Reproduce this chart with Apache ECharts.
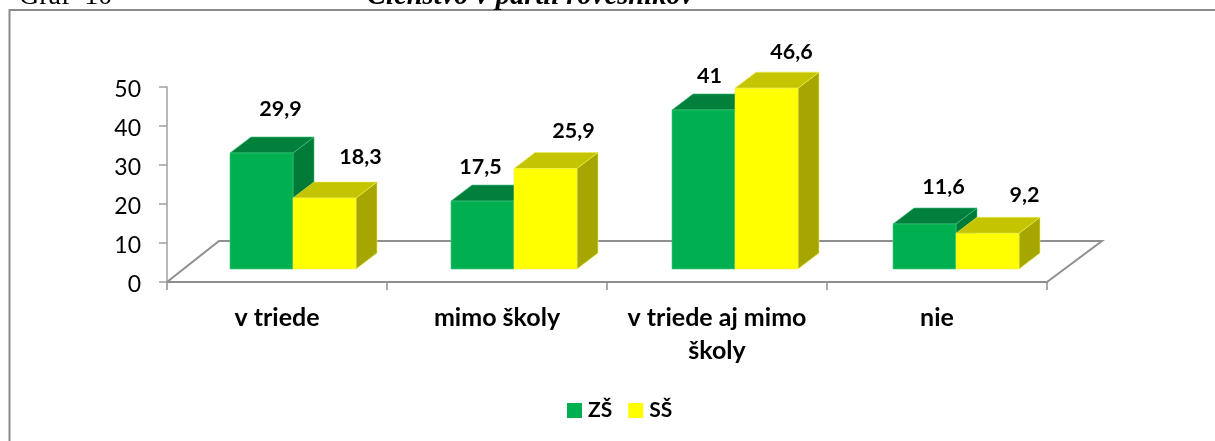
<!DOCTYPE html>
<html><head><meta charset="utf-8">
<style>html,body{margin:0;padding:0;background:#fff}#c{width:1215px;height:441px}</style>
<script src="https://cdn.jsdelivr.net/npm/echarts@6/dist/echarts.min.js"></script>
</head><body><div id="c"></div>
<script>
const categories = ['v triede', 'mimo školy', 'v triede aj mimo\nškoly', 'nie'];
const seriesNames = ['ZŠ', 'SŠ'];
const valuesZS = [29.9, 17.5, 41, 11.6];
const valuesSS = [18.3, 25.9, 46.6, 9.2];
const yTicks = [0, 50, 10];

const FONT = 'Lato';
const frontOff = [16, -13], depth = [21, -16], barW = 63, floorDepth = [52, -41], floorBackExtra = 3;
const spread = 1;               // reference bars drift about 1px per category
const depthShrink = 0.995;      // front plane of the 3D box sits slightly further back than the axis
// hand-placed data label nudges in the reference [dx from bar centre, dy from front top]
const nudgeZS = [[19, -44], [-2, -34], [6, -34], [19, -37]];
const nudgeSS = [[36, -41], [28, -37], [25, -36], [37, -38]];

function bar3d(colors, side, nudges) {
  return function (params, api) {
    const i = api.value(0), v = api.value(1);
    const p = api.coord([i, v]), b = api.coord([i, 0]);
    const cx = b[0] + frontOff[0] + i * spread;
    const x0 = side === 0 ? cx - barW : cx, x1 = x0 + barW;
    const yT = b[1] + (p[1] - b[1]) * depthShrink + frontOff[1], yB = b[1] + frontOff[1];
    const dx = depth[0], dy = depth[1];
    const edge = {stroke: colors.edge, lineWidth: 0.6};
    return {type: 'group', children: [
      {type: 'polygon', shape: {points: [[x1, yT], [x1 + dx, yT + dy], [x1 + dx, yB + dy], [x1, yB]]}, style: {fill: colors.side, ...edge}},
      {type: 'polygon', shape: {points: [[x0, yT], [x0 + dx, yT + dy], [x1 + dx, yT + dy], [x1, yT]]}, style: {fill: colors.top, ...edge}},
      {type: 'rect', shape: {x: x0, y: yT, width: barW, height: yB - yT}, style: {fill: colors.front, ...edge}},
      {type: 'text', x: (x0 + x1) / 2 + nudges[i][0], y: yT + nudges[i][1], style: {
        text: String(v).replace('.', ','), fill: '#000', font: 'bold 21.5px ' + FONT, align: 'center', verticalAlign: 'middle'}}
    ]};
  };
}
const green = {front: '#00B050', top: '#00803A', side: '#007A37', edge: '#3fc47f'};
const yellow = {front: '#FFFF00', top: '#C4C400', side: '#A6A600', edge: '#ecec50'};

const option = {
  animation: false,
  backgroundColor: '#fff',
  graphic: [
    {type: 'polyline', shape: {points: [[9.5, 441], [9.5, 10], [1215, 10]]}, style: {stroke: '#8a8a8a', lineWidth: 2, fill: 'none'}, silent: true},
    {type: 'text', x: 19, y: 11, style: {text: 'Graf  10', fill: '#000', font: '28px "Liberation Serif"', verticalAlign: 'bottom', align: 'left'}},
    {type: 'text', x: 367, y: 11, style: {text: 'Členstvo v partii rovesníkov', fill: '#000', font: 'italic bold 28.6px "Liberation Serif"', verticalAlign: 'bottom', align: 'left'}}
  ],
  grid: {left: 167, top: 87, width: 880, height: 195, containLabel: false},
  legend: {
    left: 562, top: 395, itemWidth: 15, itemHeight: 15, itemGap: 16,
    icon: 'rect', data: seriesNames,
    textStyle: {color: '#000', fontFamily: FONT, fontWeight: 'bold', fontSize: 21, padding: [0, 0, 0, 1]}
  },
  xAxis: {
    type: 'category', data: categories,
    axisLine: {lineStyle: {color: '#8f8f8f', width: 2}},
    axisTick: {show: true, alignWithLabel: false, length: 8, lineStyle: {color: '#8f8f8f', width: 1.5}},
    axisLabel: {color: '#000', fontFamily: FONT, fontWeight: 'bold', fontSize: 25, lineHeight: 33, margin: 19, interval: 0},
    splitLine: {show: false}
  },
  yAxis: {
    type: 'value', min: yTicks[0], max: yTicks[1], interval: yTicks[2],
    axisLine: {show: true, lineStyle: {color: '#a0a0a0', width: 1.5}},
    axisTick: {show: true, length: 8, lineStyle: {color: '#a0a0a0', width: 1.5}},
    axisLabel: {color: '#000', fontFamily: FONT, fontSize: 23, margin: 26, verticalAlign: 'top', lineHeight: 5},
    splitLine: {show: false}
  },
  series: [
    {type: 'custom', name: 'floor', silent: true, clip: false, z: 1, coordinateSystem: 'cartesian2d',
      data: [[0, 0]], legendHoverLink: false, encode: {x: 0, y: 1},
      renderItem: function (params, api) {
        const c = params.coordSys, y = c.y + c.height, xL = c.x, xR = c.x + c.width;
        const pts = [[xL, y], [xL + floorDepth[0], y + floorDepth[1]],
                     [xR + floorDepth[0] + floorBackExtra, y + floorDepth[1]], [xR, y]];
        return {type: 'polyline', shape: {points: pts}, style: {stroke: '#8f8f8f', lineWidth: 2, fill: 'none'}};
      }},
    {type: 'custom', name: seriesNames[0], clip: false, z: 2, itemStyle: {color: green.front},
      data: valuesZS.map((v, i) => [i, v]), encode: {x: 0, y: 1}, renderItem: bar3d(green, 0, nudgeZS)},
    {type: 'custom', name: seriesNames[1], clip: false, z: 3, itemStyle: {color: yellow.front},
      data: valuesSS.map((v, i) => [i, v]), encode: {x: 0, y: 1}, renderItem: bar3d(yellow, 1, nudgeSS)}
  ]
};
const chart = echarts.init(document.getElementById('c'), null, {renderer: 'canvas'});
chart.setOption(option);
</script></body></html>
